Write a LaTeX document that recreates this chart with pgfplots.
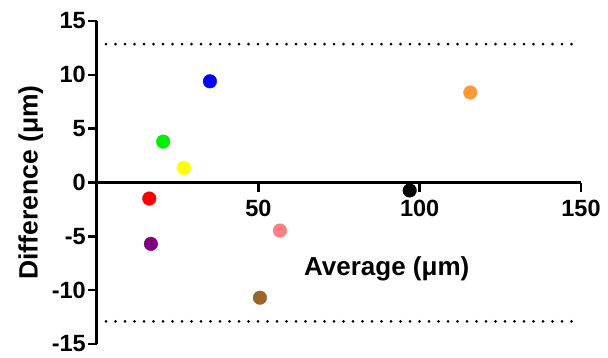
\documentclass[border=0pt]{standalone}
\usepackage{fontspec}
\setmainfont{Liberation Sans}
\usepackage{pgfplots}
\pgfplotsset{compat=1.18}
\definecolor{cblue}{RGB}{0,0,255}
\definecolor{cgreen}{RGB}{0,240,0}
\definecolor{cyellow}{RGB}{255,255,0}
\definecolor{cred}{RGB}{255,0,0}
\definecolor{cpurple}{RGB}{128,0,128}
\definecolor{cpink}{RGB}{255,128,128}
\definecolor{cbrown}{RGB}{153,102,40}
\definecolor{corange}{RGB}{255,153,51}
\begin{document}
\begin{tikzpicture}
\useasboundingbox (-97pt,-13pt) rectangle (511pt,344pt);
\begin{axis}[
 scale only axis, width=484pt, height=323pt,
 xmin=0,xmax=150,ymin=-15,ymax=15,
 axis x line=middle, axis y line=left,
 axis line style={line width=3pt,-},
 xtick={50,100,150}, ytick={-15,-10,...,15},
 tick style={line width=2.4pt,black},
 major tick length=9pt,
 tick align=outside,
 ticklabel style={font=\fontsize{23.5}{23.5}\selectfont\bfseries},
 yticklabel style={inner xsep=2pt},
 xticklabel style={yshift=-5pt},
 /pgf/number format/assume math mode=true,
 clip=false,
]
\addplot[line width=3pt, line cap=round, dash pattern=on 0pt off 9.5pt] coordinates {(2.8,12.85)(150,12.85)};
\addplot[line width=3pt, line cap=round, dash pattern=on 0pt off 9.5pt] coordinates {(2.8,-12.9)(150,-12.9)};
\addplot[only marks, mark=*, mark size=6.8pt, color=cblue] coordinates {(35,9.4)};
\addplot[only marks, mark=*, mark size=6.8pt, color=cgreen] coordinates {(20.5,3.8)};
\addplot[only marks, mark=*, mark size=6.8pt, color=cyellow] coordinates {(26.9,1.36)};
\addplot[only marks, mark=*, mark size=6.8pt, color=cred] coordinates {(16.2,-1.49)};
\addplot[only marks, mark=*, mark size=6.8pt, color=cpurple] coordinates {(16.7,-5.7)};
\addplot[only marks, mark=*, mark size=6.8pt, color=cpink] coordinates {(56.7,-4.46)};
\addplot[only marks, mark=*, mark size=6.8pt, color=cbrown] coordinates {(50.5,-10.7)};
\addplot[only marks, mark=*, mark size=6.8pt, color=black] coordinates {(96.9,-0.74)};
\addplot[only marks, mark=*, mark size=6.8pt, color=corange] coordinates {(115.7,8.36)};
\node[rotate=90, font=\fontsize{26.5}{26.5}\selectfont\bfseries] at (axis cs:-20.5,0) {Difference (μm)};
\node[font=\fontsize{26}{26}\selectfont\bfseries] at (axis cs:89.8,-8) {Average (μm)};
\end{axis}
\end{tikzpicture}
\end{document}
